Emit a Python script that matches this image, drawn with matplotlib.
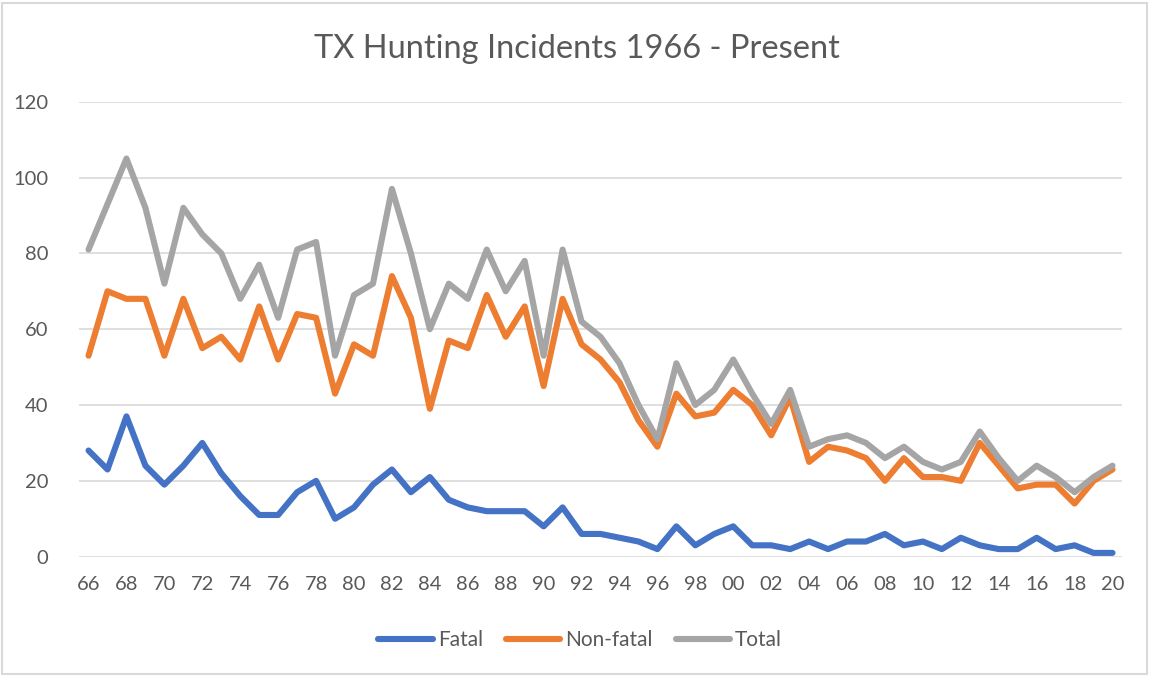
import matplotlib
matplotlib.use("Agg")
import matplotlib.pyplot as plt
import matplotlib.patches as patches
import numpy as np

# TX hunting incidents per year, 1966 - 2020
years = list(range(1966, 2021))
fatal = [28, 23, 37, 24, 19, 24, 30, 22, 16, 11,
         11, 17, 20, 10, 13, 19, 23, 17, 21, 15,
         13, 12, 12, 12, 8, 13, 6, 6, 5, 4,
         2, 8, 3, 6, 8, 3, 3, 2, 4, 2,
         4, 4, 6, 3, 4, 2, 5, 3, 2, 2,
         5, 2, 3, 1, 1]
non_fatal = [53, 70, 68, 68, 53, 68, 55, 58, 52, 66,
             52, 64, 63, 43, 56, 53, 74, 63, 39, 57,
             55, 69, 58, 66, 45, 68, 56, 52, 46, 36,
             29, 43, 37, 38, 44, 40, 32, 42, 25, 29,
             28, 26, 20, 26, 21, 21, 20, 30, 24, 18,
             19, 19, 14, 20, 23]
total = [81, 93, 105, 92, 72, 92, 85, 80, 68, 77,
         63, 81, 83, 53, 69, 72, 97, 80, 60, 72,
         68, 81, 70, 78, 53, 81, 62, 58, 51, 40,
         31, 51, 40, 44, 52, 43, 35, 44, 29, 31,
         32, 30, 26, 29, 25, 23, 25, 33, 26, 20,
         24, 21, 17, 21, 24]
tick_years = years[::2]
tick_labels = ["%02d" % (y % 100) for y in tick_years]

plt.rcParams['font.family'] = ['Lato', 'DejaVu Sans']
text_col = '#595959'

fig = plt.figure(figsize=(11.49, 6.76), dpi=100)
ax = fig.add_axes([0.0688, 0.1765, 0.9077, 0.6731])

lw = 4.4
ax.plot(years, fatal, color='#4472C4', lw=lw, label='Fatal', solid_joinstyle='round', solid_capstyle='round')
ax.plot(years, non_fatal, color='#ED7D31', lw=lw, label='Non-fatal', solid_joinstyle='round', solid_capstyle='round')
ax.plot(years, total, color='#A5A5A5', lw=lw, label='Total', solid_joinstyle='round', solid_capstyle='round')

ax.set_xlim(1965.5, 2020.5)
ax.set_ylim(0, 120)
ax.set_yticks(range(0, 121, 20))
ax.set_xticks(tick_years)
ax.set_xticklabels(tick_labels)
ax.grid(axis='y', color='#D9D9D9', lw=1.2)
ax.set_axisbelow(True)
for s in ax.spines.values():
    s.set_visible(False)
ax.tick_params(length=0, labelsize=14.5, labelcolor=text_col)
ax.tick_params(axis='y', pad=22)
ax.tick_params(axis='x', pad=14)

fig.text(0.502, 0.927, "TX Hunting Incidents 1966 - Present", ha='center', va='center',
         fontsize=23.5, color=text_col)

fig.legend(loc='center', bbox_to_anchor=(0.505, 0.053), ncol=3, frameon=False,
           fontsize=15, labelcolor=text_col, handlelength=2.6, handletextpad=0.25,
           columnspacing=1.1)

fig.patches.append(patches.Rectangle((0.002, 0.003), 0.996, 0.993, transform=fig.transFigure,
                                     fill=False, ec='#D9D9D9', lw=1.5))

fig.savefig("out.png", dpi=100)
